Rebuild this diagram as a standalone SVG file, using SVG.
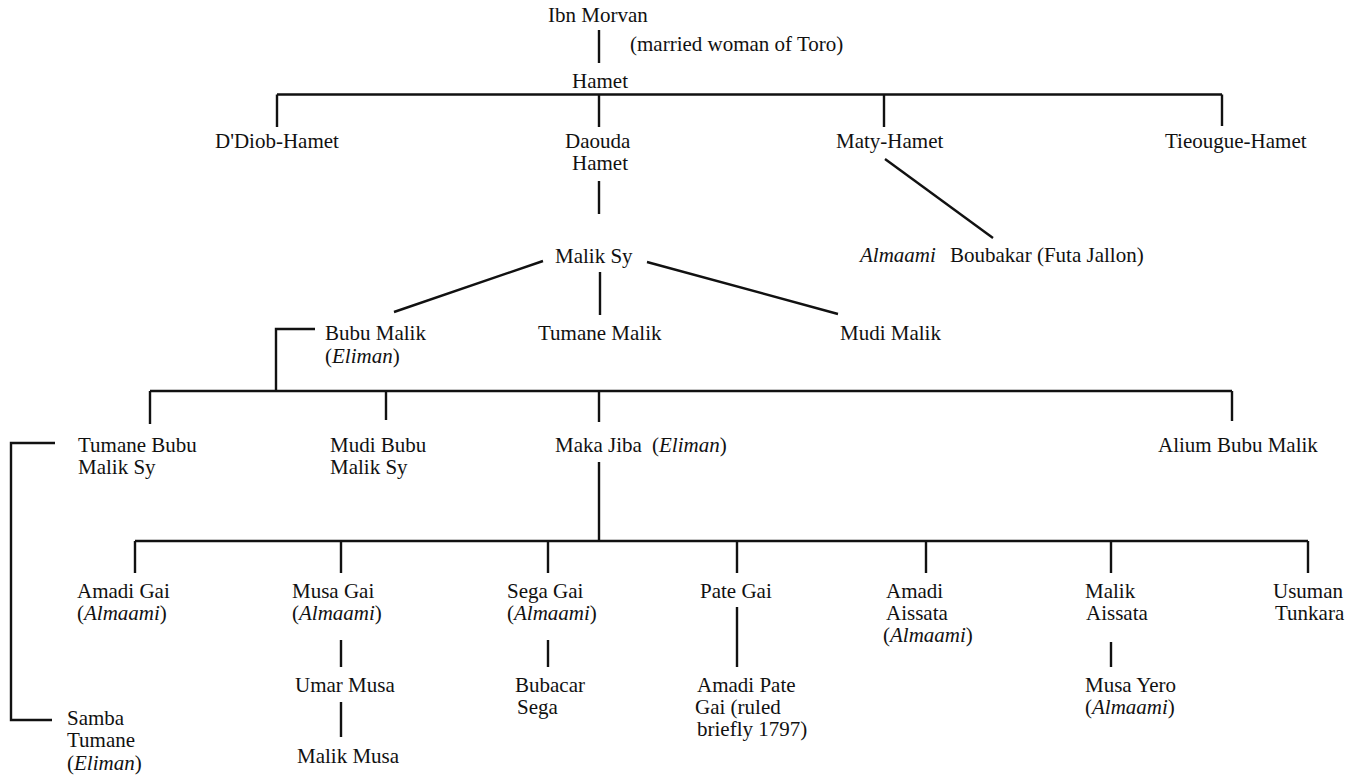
<svg xmlns="http://www.w3.org/2000/svg" width="1353" height="778" viewBox="0 0 1353 778">
<style>
text{font-family:"Liberation Serif","Times New Roman",serif;font-size:21px;fill:#111}
.i{font-style:italic}
.c{stroke:#111;stroke-width:2.4;fill:none}
</style>
<rect width="1353" height="778" fill="#fff"/>
<g id="connectors" class="c">
<path d="M599,30 V63"/>
<path d="M277,94.5 H1222 M277,94.5 V127 M599,94.5 V127 M884,94.5 V127 M1222,94.5 V126"/>
<path d="M599,181 V214"/>
<path d="M885,159 L993,238"/>
<path d="M543,261 L394,312 M647,262 L838,314 M600,272 V315"/>
<path d="M315,329 H276 V391"/>
<path d="M150,391 H1232 M150,391 V424 M386,391 V420 M599,391 V422 M1232,391 V421"/>
<path d="M55,443 H11 V720 H52"/>
<path d="M599,462 V541"/>
<path d="M135,541 H1308 M135,541 V573 M341,541 V573 M548,541 V573 M737,541 V573 M926,541 V573 M1111,541 V573 M1308,541 V573"/>
<path d="M341,640 V667 M341,702 V737"/>
<path d="M548,640 V667"/>
<path d="M737,607 V667"/>
<path d="M1111,642 V667"/>
</g>
<g id="ibn-morvan"><text x="548" y="22">Ibn Morvan</text></g>
<g id="married-woman"><text x="630" y="51">(married woman of Toro)</text></g>
<g id="hamet"><text x="572" y="88">Hamet</text></g>
<g id="ddiob-hamet"><text x="215" y="148">D'Diob-Hamet</text></g>
<g id="daouda-hamet"><text x="565" y="148">Daouda</text><text x="572" y="170">Hamet</text></g>
<g id="maty-hamet"><text x="836" y="148">Maty-Hamet</text></g>
<g id="tieougue-hamet"><text x="1165" y="148">Tieougue-Hamet</text></g>
<g id="boubakar"><text x="860" y="262"><tspan class="i">Almaami</tspan><tspan x="950">Boubakar (Futa Jallon)</tspan></text></g>
<g id="malik-sy"><text x="555" y="263">Malik Sy</text></g>
<g id="bubu-malik"><text x="325" y="340">Bubu Malik</text><text x="325" y="363">(<tspan class="i">Eliman</tspan>)</text></g>
<g id="tumane-malik"><text x="538" y="340">Tumane Malik</text></g>
<g id="mudi-malik"><text x="840" y="340">Mudi Malik</text></g>
<g id="tumane-bubu"><text x="78" y="452">Tumane Bubu</text><text x="78" y="474">Malik Sy</text></g>
<g id="mudi-bubu"><text x="330" y="452">Mudi Bubu</text><text x="330" y="474">Malik Sy</text></g>
<g id="maka-jiba"><text x="555" y="452">Maka Jiba</text><text x="652" y="452">(<tspan class="i">Eliman</tspan>)</text></g>
<g id="alium-bubu-malik"><text x="1158" y="452">Alium Bubu Malik</text></g>
<g id="samba-tumane"><text x="67" y="725">Samba</text><text x="67" y="747">Tumane</text><text x="67" y="770">(<tspan class="i">Eliman</tspan>)</text></g>
<g id="amadi-gai"><text x="77" y="598">Amadi Gai</text><text x="77" y="620">(<tspan class="i">Almaami</tspan>)</text></g>
<g id="musa-gai"><text x="292" y="598">Musa Gai</text><text x="292" y="620">(<tspan class="i">Almaami</tspan>)</text></g>
<g id="umar-musa"><text x="295" y="692">Umar Musa</text></g>
<g id="malik-musa"><text x="297" y="763">Malik Musa</text></g>
<g id="sega-gai"><text x="507" y="598">Sega Gai</text><text x="507" y="620">(<tspan class="i">Almaami</tspan>)</text></g>
<g id="bubacar-sega"><text x="515" y="692">Bubacar</text><text x="517" y="714">Sega</text></g>
<g id="pate-gai"><text x="700" y="598">Pate Gai</text></g>
<g id="amadi-pate-gai"><text x="697" y="692">Amadi Pate</text><text x="695" y="714">Gai (ruled</text><text x="697" y="736">briefly 1797)</text></g>
<g id="amadi-aissata"><text x="886" y="598">Amadi</text><text x="886" y="620">Aissata</text><text x="883" y="642">(<tspan class="i">Almaami</tspan>)</text></g>
<g id="malik-aissata"><text x="1085" y="598">Malik</text><text x="1086" y="620">Aissata</text></g>
<g id="musa-yero"><text x="1085" y="692">Musa Yero</text><text x="1085" y="714">(<tspan class="i">Almaami</tspan>)</text></g>
<g id="usuman-tunkara"><text x="1273" y="598">Usuman</text><text x="1275" y="620">Tunkara</text></g>
</svg>
